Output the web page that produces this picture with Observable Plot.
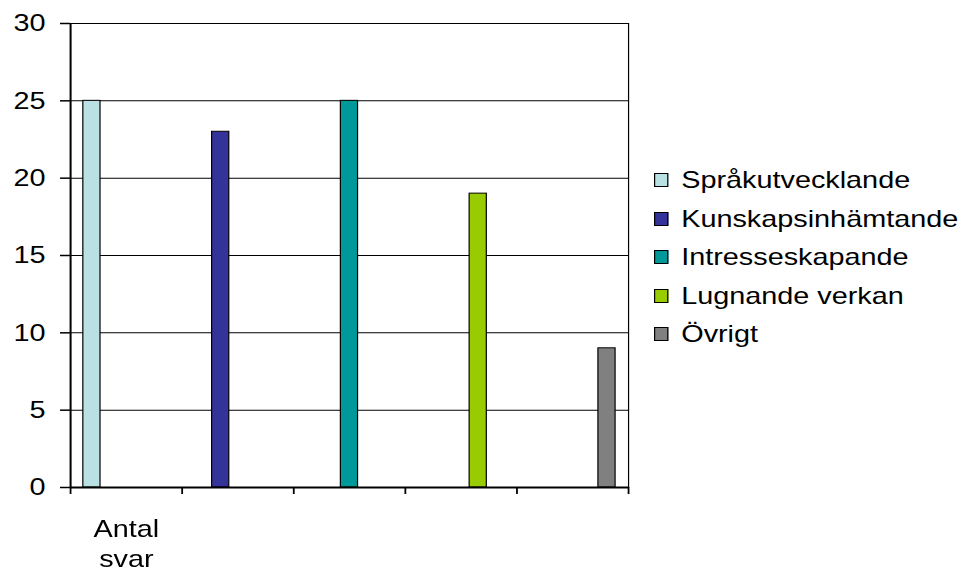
<!DOCTYPE html>
<html>
<head>
<meta charset="utf-8">
<script src="https://cdn.jsdelivr.net/npm/d3@7"></script>
<script src="https://cdn.jsdelivr.net/npm/@observablehq/plot@0.6"></script>
<style>
  html, body { margin: 0; padding: 0; background: white; }
  #wrap { position: relative; transform-origin: 0 0; font-family: "Liberation Sans", Arial, sans-serif; }
  #legend { position: absolute; display: flex; flex-direction: column; font-size: 24px; color: black; }
  #legend .row { display: flex; align-items: center; height: 38.5px; white-space: nowrap; }
  #legend .sw { width: 11.7px; height: 14px; box-sizing: border-box; border: 1px solid #000; margin-right: 11px; }
</style>
</head>
<body>
<div id="wrap"></div>
<script>
// ---- data ----
const categories = ["Antal svar", "", "", "", ""];
const series = ["Språkutvecklande", "Kunskapsinhämtande", "Intresseskapande", "Lugnande verkan", "Övrigt"];
const values = [25, 23, 25, 19, 9];
const colors = ["#B9E0E2", "#333399", "#009999", "#99CC00", "#808080"];
const yTicks = [0, 5, 10, 15, 20, 25, 30];

// ---- layout (Excel-like clustered columns, gap width 150%) ----
const stretch = 1.2;           // the original picture is stretched horizontally
const W = 963 / stretch, H = 571;
const gap = 1.5;
const slots = series.length + gap;

// series i carries its value in category i
const rows = series.map((s, i) => ({series: s, cat: i, slot: i, value: values[i]}));
const catRows = categories.map((c, i) => ({label: c, cat: i}));

const chart = Plot.plot({
  width: W,
  height: H,
  marginLeft: 58.3,
  marginRight: 279.2,
  marginTop: 23,
  marginBottom: 84,
  style: {fontFamily: "'Liberation Sans', Arial, sans-serif", fontSize: "24px", color: "black", background: "white", overflow: "visible"},
  x: {type: "linear", domain: [0, categories.length]},
  y: {domain: [0, 30]},
  color: {domain: series, range: colors},
  marks: [
    Plot.ruleY(yTicks, {stroke: "black", strokeWidth: 1}),
    Plot.rectY(rows, {
      x1: d => d.cat + (gap / 2 + d.slot) / slots,
      x2: d => d.cat + (gap / 2 + d.slot + 1) / slots,
      y: "value",
      fill: "series",
      stroke: "black",
      strokeWidth: 1
    }),
    Plot.frame({stroke: "black", strokeWidth: 1}),
    Plot.ruleX([0], {stroke: "black", strokeWidth: 1.6}),
    Plot.ruleY([0], {stroke: "black", strokeWidth: 2}),
    Plot.axisY({ticks: yTicks, tickSize: 8.3, tickPadding: 12.5, label: null, fontSize: 24, strokeWidth: 1.5}),
    Plot.axisX({ticks: d3.range(categories.length + 1), tickSize: 7, tickFormat: () => "", label: null, strokeWidth: 1.5}),
    Plot.text(catRows, {
      x: d => d.cat + 0.5,
      frameAnchor: "bottom",
      text: "label",
      lineAnchor: "top",
      lineWidth: 3,
      lineHeight: 1.25,
      dy: 28,
      fontSize: 24,
      fill: "black"
    })
  ]
});

const wrap = document.getElementById("wrap");
wrap.style.width = W + "px";
wrap.style.height = H + "px";
wrap.style.transform = `scaleX(${stretch})`;
wrap.appendChild(chart);

// legend (HTML, right of the plot area)
const legend = document.createElement("div");
legend.id = "legend";
legend.style.left = (654 / stretch) + "px";
legend.style.top = "160.75px";
series.forEach((s, i) => {
  const row = document.createElement("div");
  row.className = "row";
  const sw = document.createElement("span");
  sw.className = "sw";
  sw.style.background = colors[i];
  const t = document.createElement("span");
  t.textContent = s;
  row.appendChild(sw);
  row.appendChild(t);
  legend.appendChild(row);
});
wrap.appendChild(legend);
</script>
</body>
</html>
